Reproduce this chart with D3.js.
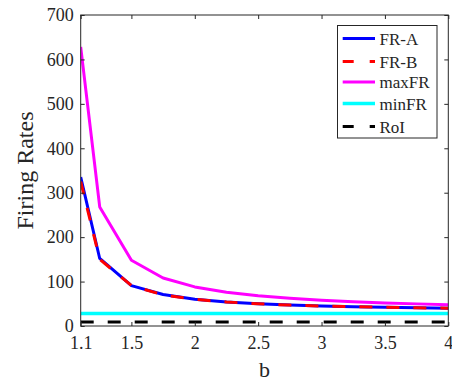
<!DOCTYPE html>
<html>
<head>
<meta charset="utf-8">
<script src="https://cdn.jsdelivr.net/npm/d3@7"></script>
<style>
  html, body { margin: 0; padding: 0; background: #fff; }
  svg { display: block; }
  text { font-family: "Liberation Serif", "Times New Roman", serif; fill: #262626; }
</style>
</head>
<body>
<svg id="chart" width="452" height="381"></svg>
<script>
// ---- data ----
const bValues  = [1.1, 1.25, 1.5, 1.75, 2, 2.25, 2.5, 2.75, 3, 3.25, 3.5, 3.75, 4];
const frA      = [335, 152, 91, 71, 60, 54, 50, 47, 45, 43.5, 42, 41, 40];
const frB      = [325, 150, 91, 70, 60, 54, 50, 47, 45, 43.5, 42, 41, 40];
const maxFR    = [628, 268, 148, 108, 88, 76, 68, 62.5, 58, 54.7, 52, 49.8, 48];
const minFR    = [28, 28, 28, 28, 28, 28, 28, 28, 28, 28, 28, 28, 28];
const roi      = [9, 9, 9, 9, 9, 9, 9, 9, 9, 9, 9, 9, 9];
const xTicks   = [1.1, 1.5, 2, 2.5, 3, 3.5, 4];
const xTickLabels = ["1.1", "1.5", "2", "2.5", "3", "3.5", "4"];
const yTicks   = [0, 100, 200, 300, 400, 500, 600, 700];
const seriesNames = ["FR-A", "FR-B", "maxFR", "minFR", "RoI"];

// ---- layout ----
const svg = d3.select("#chart");
const L = 80.7, R = 448.3, T = 15, B = 326;
const x = d3.scaleLinear().domain([1.1, 4]).range([L, R]);
const y = d3.scaleLinear().domain([0, 700]).range([B, T]);
const axisColor = "#262626";

// clip
svg.append("defs").append("clipPath").attr("id", "clip")
  .append("rect").attr("x", L).attr("y", T).attr("width", R - L).attr("height", B - T);

const series = [
  { name: "FR-A",  vals: frA,   color: "#0000ff", dash: null,    legDash: null,    w: 3 },
  { name: "FR-B",  vals: frB,   color: "#ff0000", dash: "13,14", legDash: "11,16", w: 3 },
  { name: "maxFR", vals: maxFR, color: "#ff00ff", dash: null,    legDash: null,    w: 3 },
  { name: "minFR", vals: minFR, color: "#00ffff", dash: null,    legDash: null,    w: 3.5 },
  { name: "RoI",   vals: roi,   color: "#000000", dash: "13,14", legDash: "11,16", w: 3 }
];

const line = d3.line().x((d, i) => x(bValues[i])).y(d => y(d));
const g = svg.append("g").attr("clip-path", "url(#clip)");
// draw order: background ones first, FR-B dashed on top of FR-A
[series[3], series[4], series[2], series[0], series[1]].forEach(s => {
  g.append("path").datum(s.vals)
    .attr("d", line)
    .attr("fill", "none")
    .attr("stroke", s.color)
    .attr("stroke-width", s.w)
    .attr("stroke-linejoin", "round")
    .attr("stroke-dasharray", s.dash);
});

// axes box
const tickLen = 4;
const axG = svg.append("g");
axG.append("rect").attr("x", L).attr("y", T).attr("width", R - L).attr("height", B - T)
  .attr("fill", "none").attr("stroke", axisColor).attr("stroke-width", 1);

// x axis (bottom) with inward ticks
const xAxis = d3.axisBottom(x).tickValues(xTicks).tickFormat((d, i) => xTickLabels[i])
  .tickSizeInner(-tickLen).tickSizeOuter(0).tickPadding(10);
const xg = svg.append("g").attr("transform", `translate(0,${B})`).call(xAxis);
xg.select(".domain").remove();
xg.selectAll("line").attr("stroke", axisColor);
xg.selectAll("text").attr("font-size", 18).attr("font-family", "Liberation Serif").attr("fill", axisColor);

// x axis top ticks
const xt = svg.append("g").attr("transform", `translate(0,${T})`)
  .call(d3.axisTop(x).tickValues(xTicks).tickFormat("").tickSizeInner(-tickLen).tickSizeOuter(0));
xt.select(".domain").remove();
xt.selectAll("line").attr("stroke", axisColor);

// y axis left
const yAxis = d3.axisLeft(y).tickValues(yTicks).tickFormat(d3.format("d"))
  .tickSizeInner(-tickLen).tickSizeOuter(0).tickPadding(7);
const yg = svg.append("g").attr("transform", `translate(${L},0)`).call(yAxis);
yg.select(".domain").remove();
yg.selectAll("line").attr("stroke", axisColor);
yg.selectAll("text").attr("font-size", 18).attr("font-family", "Liberation Serif").attr("fill", axisColor);

// y axis right ticks
const yr = svg.append("g").attr("transform", `translate(${R},0)`)
  .call(d3.axisRight(y).tickValues(yTicks).tickFormat("").tickSizeInner(-tickLen).tickSizeOuter(0));
yr.select(".domain").remove();
yr.selectAll("line").attr("stroke", axisColor);

// axis labels
svg.append("text").attr("x", (L + R) / 2).attr("y", 377)
  .attr("text-anchor", "middle").attr("font-size", 22).text("b");
svg.append("text")
  .attr("transform", `translate(33,${(T + B) / 2}) rotate(-90)`)
  .attr("text-anchor", "middle").attr("font-size", 24).text("Firing Rates");

// legend
const lg = svg.append("g");
lg.append("rect").attr("x", 337.5).attr("y", 25.5).attr("width", 99.5).attr("height", 112.5)
  .attr("fill", "#fff").attr("stroke", axisColor).attr("stroke-width", 1);
const legY = [38.5, 61.5, 82, 103.5, 126.5];
series.forEach((s, i) => {
  lg.append("line").attr("x1", 342.7).attr("x2", 375).attr("y1", legY[i]).attr("y2", legY[i])
    .attr("stroke", s.color).attr("stroke-width", s.w).attr("stroke-dasharray", s.legDash);
  lg.append("text").attr("x", 379.5).attr("y", legY[i] + 6).attr("font-size", 17)
    .attr("fill", "#000").text(seriesNames[i]);
});
</script>
</body>
</html>
